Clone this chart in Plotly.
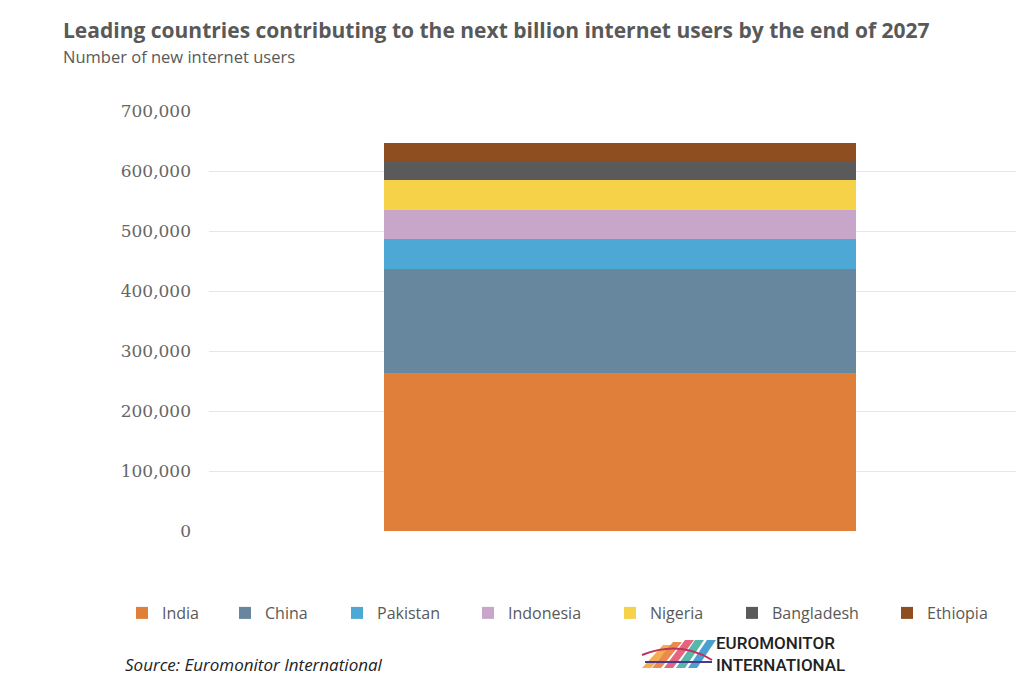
import plotly.graph_objects as go

# ---- data ----
category = ["2027"]
countries = ["India", "China", "Pakistan", "Indonesia", "Nigeria", "Bangladesh", "Ethiopia"]
new_users = [263000, 174000, 50000, 48000, 50000, 32000, 30500]
colors = ["#E07F3A", "#66879E", "#4DA8D6", "#C8A6CA", "#F5D247", "#5A5A5A", "#8E4E20"]
y_ticks = [0, 100000, 200000, 300000, 400000, 500000, 600000, 700000]
y_tick_labels = ["0", "100,000", "200,000", "300,000", "400,000", "500,000", "600,000", "700,000"]

# ---- layout (style) ----
legend_square_px = [142, 245, 357, 488, 630, 752, 907]  # left edge of each legend swatch
OFF = 8  # page body margin
W, H = 1024, 697
L, R, T = 209 - OFF, 0, 111 - OFF
B = H - (531 - OFF)
PW, PH = W - L - R, H - T - B


def px_x(px):
    return (px - OFF - L) / PW


def px_y(py):
    return (H - B - (py - OFF)) / PH


fig = go.Figure()
legend_layouts = {}
for i, (name, val, col) in enumerate(zip(countries, new_users, colors)):
    key = "legend" if i == 0 else f"legend{i + 1}"
    fig.add_trace(go.Bar(
        x=category, y=[val], name=name, marker=dict(color=col, line=dict(width=0)),
        width=1, legend=key,
    ))
    legend_layouts[key] = dict(
        orientation="h", x=px_x(legend_square_px[i] - 20), xanchor="left",
        y=px_y(613), yanchor="middle", itemwidth=30,
        font=dict(family="Open Sans", size=16, color="#595959"),
        bgcolor="rgba(0,0,0,0)",
    )

span_px = PW / 472.0
fig.update_layout(
    width=W, height=H,
    barmode="stack",
    plot_bgcolor="white", paper_bgcolor="white",
    margin=dict(l=L, r=R, t=T, b=B, autoexpand=False),
    xaxis=dict(showticklabels=False, showgrid=False, zeroline=False, showline=False,
               range=[-0.871, -0.871 + span_px]),
    yaxis=dict(range=[0, 700000], tickvals=y_ticks, ticktext=y_tick_labels,
               showgrid=True, gridcolor="#E6E6E6", gridwidth=1, zeroline=False,
               showline=False, ticklabelstandoff=17,
               tickfont=dict(family="DejaVu Serif", size=17, color="#666666")),
    showlegend=True,
    font=dict(family="Open Sans"),
    **legend_layouts,
)

fig.add_annotation(
    text="<b>Leading countries contributing to the next billion internet users by the end of 2027</b>",
    xref="paper", yref="paper", x=px_x(61), y=px_y(30), xanchor="left", yanchor="middle",
    showarrow=False, font=dict(family="Open Sans", size=21, color="#595959"))
fig.add_annotation(
    text="Number of new internet users",
    xref="paper", yref="paper", x=px_x(61), y=px_y(56), xanchor="left", yanchor="middle",
    showarrow=False, font=dict(family="Open Sans", size=16.5, color="#595959"))
fig.add_annotation(
    text="<i>Source: Euromonitor International</i>",
    xref="paper", yref="paper", x=px_x(123), y=px_y(664), xanchor="left", yanchor="middle",
    showarrow=False, font=dict(family="Open Sans", size=17, color="#222222"))
fig.add_annotation(
    text="EUROMONITOR<br>INTERNATIONAL", xref="paper", yref="paper",
    x=px_x(714), y=px_y(654), xanchor="left", yanchor="middle", align="left",
    showarrow=False, font=dict(family="Roboto", size=17, color="#222222", weight=500))

# logo graphic: slanted coloured strokes
logo = [
    ("#F0A030", 642, 668, 668, 645),
    ("#E87530", 652, 668, 678, 642),
    ("#E04A6A", 664, 668, 690, 640),
    ("#3AAA9A", 676, 668, 700, 640),
    ("#2A8FC8", 688, 668, 712, 640),
]
for col, x0, y0, x1, y1 in logo:
    fig.add_shape(type="path",
                  path=(f"M {px_x(x0)},{px_y(y0)} L {px_x(x0+9)},{px_y(y0)} "
                        f"L {px_x(x1+4)},{px_y(y1)} L {px_x(x1-5)},{px_y(y1)} Z"),
                  xref="paper", yref="paper", fillcolor=col, line=dict(width=0), opacity=0.85)
fig.add_shape(type="path",
              path=(f"M {px_x(642)},{px_y(655)} Q {px_x(680)},{px_y(640)} {px_x(712)},{px_y(660)}"),
              xref="paper", yref="paper", line=dict(color="#C03060", width=2))
fig.add_shape(type="line", x0=px_x(645), x1=px_x(712), y0=px_y(662), y1=px_y(662),
              xref="paper", yref="paper", line=dict(color="#4A3A8A", width=2))

fig.write_html("out.html")
